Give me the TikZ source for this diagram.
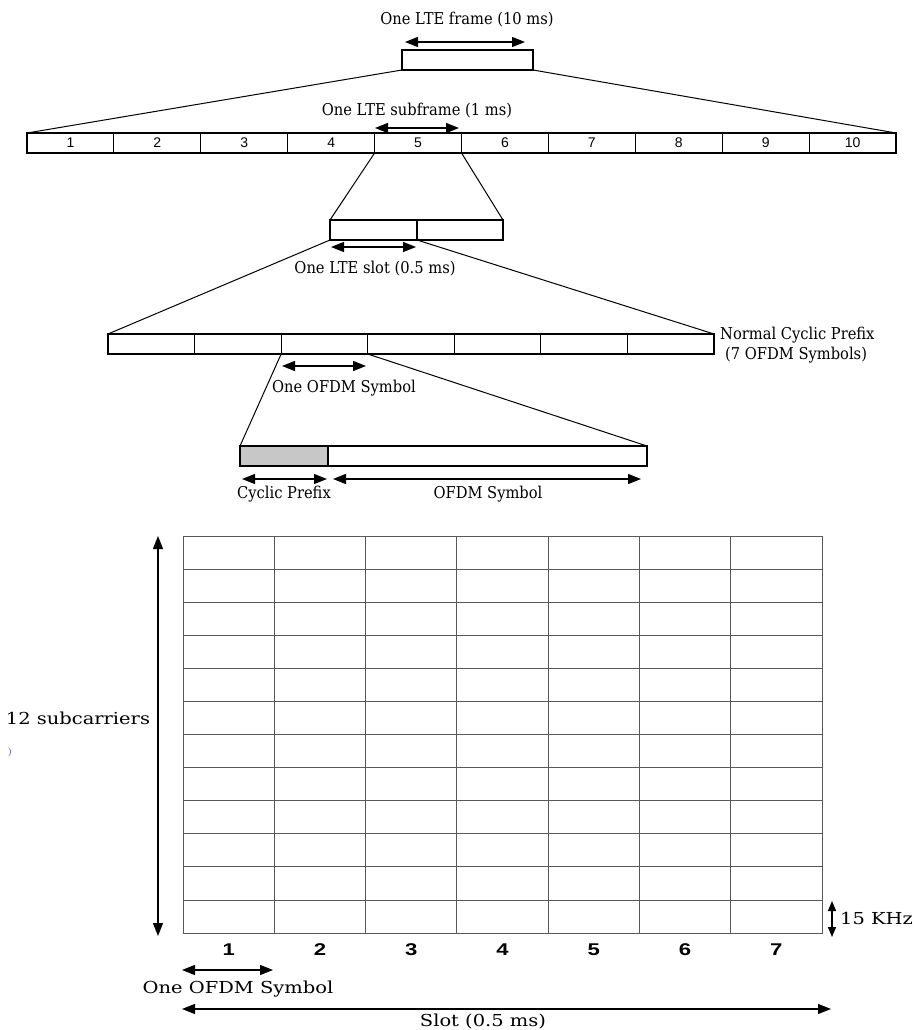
\documentclass[tikz,border=0pt]{standalone}
\usepackage{fontspec}
\usepackage{graphicx}
\usetikzlibrary{arrows.meta}
\newfontfamily\cellsans{Liberation Sans}
\newfontfamily\gridnum[FakeStretch=1.3]{Liberation Sans}
\newfontfamily\wideserif[FakeStretch=1.18]{DejaVu Serif}
\newfontfamily\narrowserif[FakeStretch=0.9]{DejaVu Serif}
\begin{document}
\begin{tikzpicture}[x=1pt,y=-1pt,
  toplbl/.style={font=\narrowserif\fontsize{16.3}{19}\selectfont, inner sep=0pt},
  botlbl/.style={font=\wideserif\fontsize{16.5}{19}\selectfont, inner sep=0pt},
  cell/.style={draw, line width=1.1pt, minimum height=20pt, inner sep=0pt, outer sep=0pt,
    font=\cellsans\fontsize{14}{16}\selectfont},
  dimarrow/.style={line width=1.3pt, {Triangle[length=13pt,width=10pt]}-{Triangle[length=13pt,width=10pt]}},
  zoomline/.style={line width=1pt},
  gridline/.style={line width=0.8pt, draw=black!65},
  colnum/.style={font=\gridnum\bfseries\fontsize{17}{19}\selectfont, inner sep=0pt}]

\useasboundingbox (0,0) rectangle (917,1030);

% ---- one LTE frame
\node[toplbl] (tframe) at (467,20) {One LTE frame (10 ms)};
\coordinate (fa1) at (405,42);
\coordinate (fa2) at (525,42);
\draw[dimarrow] (fa1) -- (fa2);
\node[cell, minimum width=131pt] (frame) at (467.5,60) {};

% ---- subframes
\foreach \i in {1,...,10}
  \node[cell, minimum width=86.9pt] (sf\i) at ({27+86.9*(\i-0.5)},143) {\i};
\draw[zoomline] (frame.south west) -- (sf1.north west);
\draw[zoomline] (frame.south east) -- (sf10.north east);
\node[toplbl] (tsub) at (417,111) {One LTE subframe (1 ms)};
\coordinate (sa1) at (375,128);
\coordinate (sa2) at (459,128);
\draw[dimarrow] (sa1) -- (sa2);

% ---- slots
\node[cell, minimum width=87pt] (sl1) at (373.5,230) {};
\node[cell, minimum width=86pt] (sl2) at (460,230) {};
\draw[zoomline] (sf5.south west) -- (sl1.north west);
\draw[zoomline] (sf5.south east) -- (sl2.north east);
\coordinate (la1) at (331,247);
\coordinate (la2) at (416,247);
\draw[dimarrow] (la1) -- (la2);
\node[toplbl] (tslot) at (375,269) {One LTE slot (0.5 ms)};

% ---- OFDM symbols
\foreach \i in {1,...,7}
  \node[cell, minimum width=86.57pt] (sy\i) at ({108+86.57*(\i-0.5)},344) {};
\draw[zoomline] (sl1.south west) -- (sy1.north west);
\draw[zoomline] (sl1.south east) -- (sy7.north east);
\node[toplbl, anchor=west] (tncp) at (720,335) {Normal Cyclic Prefix};
\node[toplbl, anchor=west] (tncp2) at (725,355) {(7 OFDM Symbols)};
\coordinate (oa1) at (282,366);
\coordinate (oa2) at (366,366);
\draw[dimarrow] (oa1) -- (oa2);
\node[toplbl] (tofdm) at (344,388) {One OFDM Symbol};

% ---- cyclic prefix + symbol
\node[cell, minimum width=88pt, fill=black!22] (cp) at (284,456) {};
\node[cell, minimum width=319pt] (os) at (487.5,456) {};
\draw[zoomline] (sy3.south west) -- (cp.north west);
\draw[zoomline] (sy3.south east) -- (os.north east);
\coordinate (ca1) at (242,479);
\coordinate (ca2) at (327,479);
\draw[dimarrow] (ca1) -- (ca2);
\coordinate (ob1) at (333,479);
\coordinate (ob2) at (641,479);
\draw[dimarrow] (ob1) -- (ob2);
\node[toplbl] (tcp) at (284,494) {Cyclic Prefix};
\node[toplbl] (tos) at (488,494) {OFDM Symbol};

% ---- resource grid
\draw[gridline] (183,536) rectangle (822,933);
\foreach \i in {1,...,6}
  \draw[gridline] ({183+91.286*\i},536) -- ++(0,397);
\foreach \j in {1,...,11}
  \draw[gridline] (183,{536+33.083*\j}) -- ++(639,0);

\coordinate (va1) at (158,536);
\coordinate (va2) at (158,936);
\draw[dimarrow] (va1) -- (va2);
\node[botlbl] (tsc) at (78,718) {12 subcarriers};
\node[font=\fontsize{9}{10}\selectfont, text=blue!60!black, inner sep=0pt] (stray) at (10,752) {)};

\coordinate (ka1) at (832,901);
\coordinate (ka2) at (832,937);
\draw[line width=1.3pt, {Triangle[length=10pt,width=8pt]}-{Triangle[length=10pt,width=8pt]}] (ka1) -- (ka2);
\node[botlbl, anchor=west] (tkhz) at (840,918) {15 KHz};

\foreach \i in {1,...,7}
  \node[colnum] (cn\i) at ({183+91.286*(\i-0.5)},950) {\i};

\coordinate (sb1) at (182,970);
\coordinate (sb2) at (273,970);
\draw[dimarrow] (sb1) -- (sb2);
\node[botlbl] (tsym) at (238,989) {One OFDM Symbol};

\coordinate (st1) at (182,1009);
\coordinate (st2) at (831,1009);
\draw[dimarrow] (st1) -- (st2);
\node[botlbl] (tslot2) at (483,1022) {Slot (0.5 ms)};
\end{tikzpicture}
\end{document}
